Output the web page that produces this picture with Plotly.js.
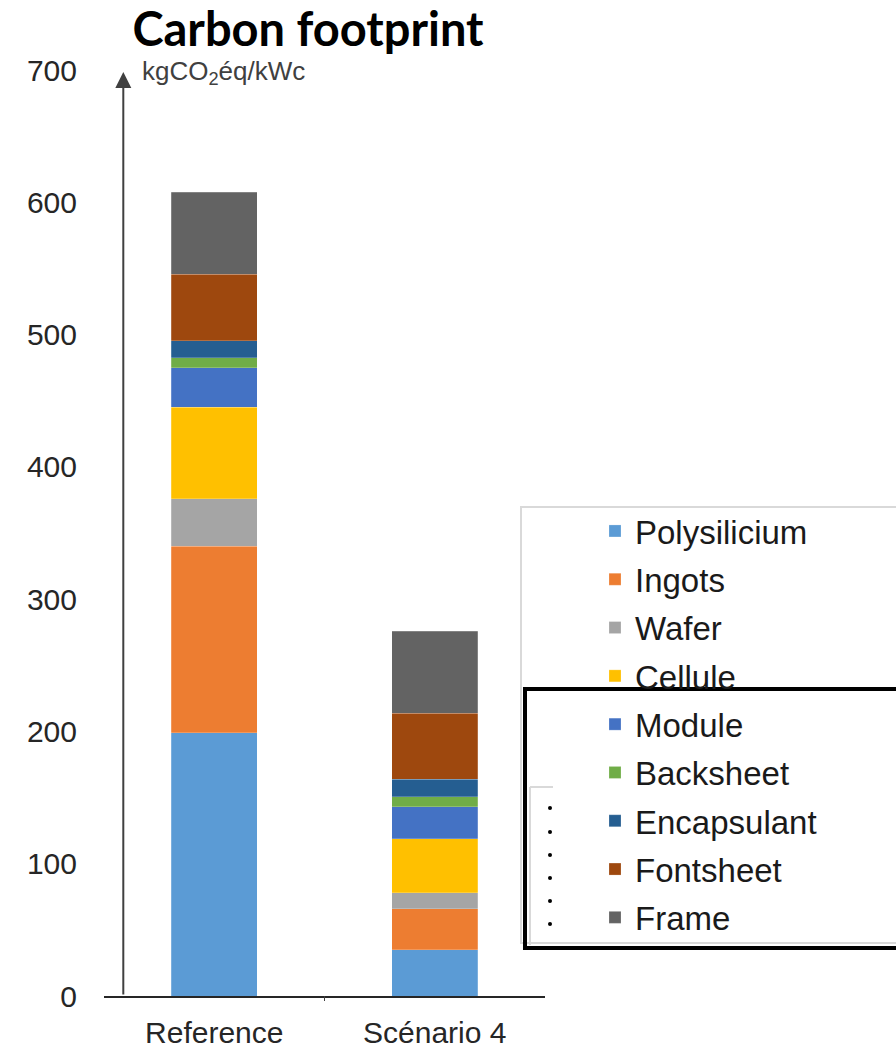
<!DOCTYPE html>
<html>
<head>
<meta charset="utf-8">
<script src="https://cdn.plot.ly/plotly-3.0.1.min.js"></script>
<style>html,body{margin:0;padding:0;background:#fff;}#chart{width:896px;height:1051px;}</style>
</head>
<body>
<div id="chart"></div>
<script>
// ---- data ----
const categories = ['Reference', 'Scénario 4'];
const seriesNames = ['Polysilicium', 'Ingots', 'Wafer', 'Cellule', 'Module', 'Backsheet', 'Encapsulant', 'Fontsheet', 'Frame'];
const polysilicium = [199, 35];
const ingots = [141, 31];
const wafer = [36, 12];
const cellule = [69, 41];
const moduleVals = [30, 24];
const backsheet = [7.5, 7.7];
const encapsulant = [13, 13];
const fontsheet = [50, 50];
const frame = [62, 62];
const yTicks = [0, 100, 200, 300, 400, 500, 600, 700];

const seriesValues = [polysilicium, ingots, wafer, cellule, moduleVals, backsheet, encapsulant, fontsheet, frame];
const colors = ['#5b9bd5', '#ed7d31', '#a5a5a5', '#ffc000', '#4472c4', '#70ad47', '#255e91', '#9e480e', '#636363'];

const FONT = 'Liberation Sans, Arial, sans-serif';
const W = 896, H = 1051;
const M = {l: 104, r: 351, t: 70, b: 55};
const PW = W - M.l - M.r, PH = H - M.t - M.b;
const px = p => (p - M.l) / PW;          // pixel x -> paper x
const py = p => (H - M.b - p) / PH;      // pixel y -> paper y

const traces = seriesNames.map((name, i) => ({
  type: 'bar',
  name: name,
  x: categories,
  y: seriesValues[i],
  legendgroup: name,
  marker: {color: colors[i], line: {width: 0.6, color: 'rgba(255,255,255,0.35)'}},
  hoverinfo: 'name+y'
}));

const shapes = [
  // legend outer box
  {type: 'rect', xref: 'paper', yref: 'paper', x0: px(521), x1: px(902), y0: py(507), y1: py(943),
   line: {color: '#d9d9d9', width: 2}, fillcolor: '#ffffff', layer: 'above'},
  // inner grey lines
  {type: 'line', xref: 'paper', yref: 'paper', x0: px(530), x1: px(553), y0: py(787), y1: py(787), line: {color: '#d9d9d9', width: 2}},
  {type: 'line', xref: 'paper', yref: 'paper', x0: px(530), x1: px(530), y0: py(787), y1: py(945), line: {color: '#d9d9d9', width: 2}},
  // black frame
  {type: 'rect', xref: 'paper', yref: 'paper', x0: px(525), x1: px(905), y0: py(689), y1: py(948),
   line: {color: '#000000', width: 4}, layer: 'above'},
  // category boundary tick
  {type: 'line', xref: 'paper', yref: 'paper', x0: 0.5, x1: 0.5, y0: 0, y1: py(1001), line: {color: '#404040', width: 1}}
];
[808, 832, 855, 878, 901, 924].forEach(d => shapes.push({
  type: 'circle', xref: 'paper', yref: 'paper', x0: px(548), x1: px(552), y0: py(d - 2), y1: py(d + 2),
  fillcolor: '#000', line: {width: 0}, layer: 'above'
}));

const layout = {
  width: W, height: H,
  margin: M,
  paper_bgcolor: '#ffffff', plot_bgcolor: '#ffffff',
  font: {family: FONT, color: '#262626'},
  barmode: 'stack',
  bargap: 0.61,
  title: {
    text: 'Carbon footprint',
    font: {family: 'Lato, Open Sans, sans-serif', size: 47, weight: 'bold', color: '#000'},
    xref: 'container', yref: 'container', x: 308 / W, xanchor: 'center', y: 1 - 30 / H, yanchor: 'middle'
  },
  xaxis: {
    type: 'category',
    showline: true, linecolor: '#262626', linewidth: 2,
    ticks: '', showgrid: false, zeroline: false,
    tickfont: {family: FONT, size: 30, color: '#262626'},
    ticklabelstandoff: 9,
    fixedrange: true
  },
  yaxis: {
    range: [0, 700],
    tickvals: yTicks,
    showline: false, showgrid: false, zeroline: false, ticks: '',
    tickfont: {family: FONT, size: 30, color: '#262626'},
    ticklabelstandoff: 26,
    fixedrange: true
  },
  showlegend: true,
  legend: {
    traceorder: 'grouped', tracegroupgap: 2.4,
    xref: 'container', yref: 'container',
    x: 595 / W, xanchor: 'left', y: 1 - 503 / H, yanchor: 'top',
    bgcolor: 'rgba(0,0,0,0)', borderwidth: 0,
    font: {family: FONT, size: 33, color: '#1a1a1a'}
  },
  shapes: shapes,
  annotations: [
    { // y axis line with arrow
      xref: 'paper', yref: 'y', x: px(123.3), y: (H - M.b - 72) / PH * 700,
      axref: 'pixel', ayref: 'pixel', ax: 0, ay: (H - M.b) - 72,
      showarrow: true, arrowhead: 2, arrowsize: 1.6, arrowwidth: 2, arrowcolor: '#404040', text: ''
    },
    {
      xref: 'paper', yref: 'paper', x: px(140), y: py(73), xanchor: 'left', yanchor: 'middle',
      text: 'kgCO<sub>2</sub>éq/kWc', showarrow: false,
      font: {family: FONT, size: 26, color: '#404040'}
    }
  ]
};

Plotly.newPlot('chart', traces, layout, {displayModeBar: false, staticPlot: true});
</script>
</body>
</html>
